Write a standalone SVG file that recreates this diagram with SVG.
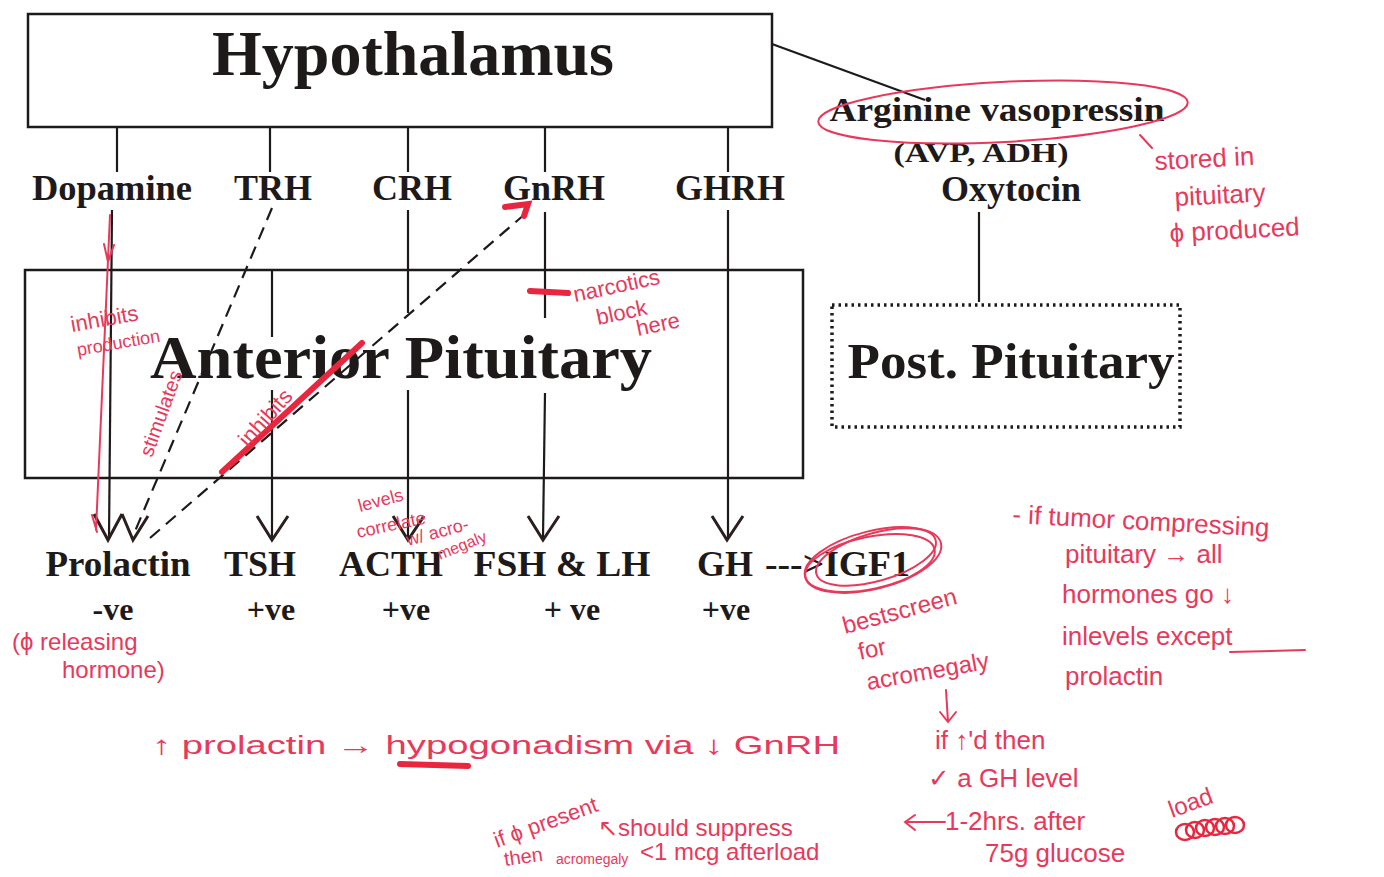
<svg xmlns="http://www.w3.org/2000/svg" width="1384" height="877" viewBox="0 0 1384 877">
<defs>
<style>
.t{font-family:"Liberation Serif","Times New Roman",serif;font-weight:bold;fill:#1e1a1a;}
.box{fill:none;stroke:#1e1a1a;stroke-width:2.5;}
.ln{stroke:#1e1a1a;stroke-width:2.2;fill:none;}
.ds{stroke:#1e1a1a;stroke-width:2.2;fill:none;stroke-dasharray:13 8;}
.ar{stroke:#2a1e1e;stroke-width:3;fill:none;stroke-linejoin:miter;}
.r{font-family:"Liberation Sans",Arial,sans-serif;fill:#e8395a;}
.rl{stroke:#e8395a;stroke-width:2;fill:none;stroke-linecap:round;}
.rt{stroke:#e8273f;stroke-width:6;fill:none;stroke-linecap:round;}
</style>
</defs>
<rect width="1384" height="877" fill="#ffffff"/>

<g id="hypothalamus">
<rect class="box" x="28" y="14" width="744" height="113"/>
<text class="t" x="413" y="75" font-size="64" text-anchor="middle" textLength="402" lengthAdjust="spacingAndGlyphs">Hypothalamus</text>
</g>

<g id="anterior-pituitary">
<rect class="box" x="25" y="270" width="778" height="208"/>
<text class="t" x="401" y="378" font-size="62" text-anchor="middle" textLength="502" lengthAdjust="spacingAndGlyphs">Anterior Pituitary</text>
</g>

<g id="posterior-pituitary">
<rect x="832" y="305" width="348" height="122" fill="none" stroke="#1e1a1a" stroke-width="3.5" stroke-dasharray="2.5 4"/>
<text class="t" x="1011" y="378" font-size="50" text-anchor="middle" textLength="327" lengthAdjust="spacingAndGlyphs">Post. Pituitary</text>
</g>

<g id="releasing-hormones">
<text class="t" x="112" y="200" font-size="36" text-anchor="middle" textLength="160" lengthAdjust="spacingAndGlyphs">Dopamine</text>
<text class="t" x="273" y="200" font-size="36" text-anchor="middle">TRH</text>
<text class="t" x="412" y="200" font-size="36" text-anchor="middle">CRH</text>
<text class="t" x="554" y="200" font-size="36" text-anchor="middle">GnRH</text>
<text class="t" x="730" y="200" font-size="36" text-anchor="middle">GHRH</text>
</g>

<g id="posterior-hormones">
<text class="t" x="997" y="121" font-size="33" text-anchor="middle" textLength="335" lengthAdjust="spacingAndGlyphs">Arginine vasopressin</text>
<text class="t" x="981" y="162" font-size="27" text-anchor="middle" textLength="175" lengthAdjust="spacingAndGlyphs">(AVP, ADH)</text>
<text class="t" x="1011" y="201" font-size="36" text-anchor="middle">Oxytocin</text>
</g>

<g id="pituitary-hormones">
<text class="t" x="118" y="576" font-size="36" text-anchor="middle" textLength="145" lengthAdjust="spacingAndGlyphs">Prolactin</text>
<text class="t" x="260" y="576" font-size="36" text-anchor="middle">TSH</text>
<text class="t" x="391" y="576" font-size="36" text-anchor="middle">ACTH</text>
<text class="t" x="562" y="576" font-size="36" text-anchor="middle" textLength="177" lengthAdjust="spacingAndGlyphs">FSH &amp; LH</text>
<text class="t" x="697" y="576" font-size="36">GH</text>
<text class="t" x="765" y="576" font-size="36" textLength="145" lengthAdjust="spacingAndGlyphs">---&gt;IGF1</text>
<text class="t" x="113" y="620" font-size="32" text-anchor="middle">-ve</text>
<text class="t" x="271" y="620" font-size="32" text-anchor="middle">+ve</text>
<text class="t" x="406" y="620" font-size="32" text-anchor="middle">+ve</text>
<text class="t" x="572" y="620" font-size="32" text-anchor="middle">+ ve</text>
<text class="t" x="726" y="620" font-size="32" text-anchor="middle">+ve</text>
</g>

<g id="connectors">
<line class="ln" x1="772" y1="44" x2="925" y2="100"/>
<line class="ln" x1="117" y1="127" x2="117" y2="172"/>
<line class="ln" x1="270" y1="127" x2="270" y2="172"/>
<line class="ln" x1="408" y1="127" x2="408" y2="172"/>
<line class="ln" x1="545" y1="127" x2="545" y2="172"/>
<line class="ln" x1="728" y1="127" x2="728" y2="172"/>
<line class="ln" x1="979" y1="212" x2="979" y2="302"/>
<line class="ln" x1="112" y1="210" x2="109" y2="538"/>
<line class="ln" x1="272" y1="270" x2="272" y2="337"/>
<line class="ln" x1="272" y1="390" x2="272" y2="538"/>
<line class="ln" x1="408" y1="210" x2="408" y2="313"/>
<line class="ln" x1="408" y1="390" x2="408" y2="538"/>
<line class="ln" x1="545" y1="212" x2="545" y2="318"/>
<line class="ln" x1="545" y1="393" x2="543" y2="538"/>
<line class="ln" x1="728" y1="210" x2="728" y2="538"/>
<line class="ds" x1="272" y1="208" x2="133" y2="536"/>
<line class="ds" x1="150" y1="538" x2="525" y2="214"/>
<path class="ar" d="M94 514 L108 540 L122 514"/>
<path class="ar" d="M122 514 L133 540 L148 516"/>
<path class="ar" d="M257 516 L272 540 L288 516"/>
<path class="ar" d="M393 516 L408 540 L424 516"/>
<path class="ar" d="M528 516 L543 540 L559 516"/>
<path class="ar" d="M712 516 L727 540 L743 516"/>
</g>

<g id="annotations">
<ellipse class="rl" cx="1003" cy="112" rx="185" ry="30" transform="rotate(-3 1003 112)"/>
<line class="rl" x1="1140" y1="135" x2="1152" y2="148"/>
<text class="r" x="1155" y="170" font-size="26" transform="rotate(-3 1155 170)">stored in</text>
<text class="r" x="1175" y="206" font-size="26" transform="rotate(-3 1175 206)">pituitary</text>
<text class="r" x="1170" y="242" font-size="26" transform="rotate(-3 1170 242)">ϕ produced</text>

<path class="rl" d="M110 215 L96 530 M92 515 L97 532 M104 244 L108 262 L114 245"/>
<text class="r" x="72" y="332" font-size="22" transform="rotate(-10 72 332)">inhibits</text>
<text class="r" x="78" y="356" font-size="18" transform="rotate(-10 78 356)">production</text>
<text class="r" x="152" y="458" font-size="20" transform="rotate(-70 152 458)">stimulates</text>
<line class="rt" x1="222" y1="472" x2="362" y2="343"/>
<text class="r" x="248" y="448" font-size="22" transform="rotate(-48 248 448)">inhibits</text>
<path class="rt" d="M505 207 L528 204 L524 216" stroke-width="5"/>

<line class="rt" x1="530" y1="291" x2="568" y2="293"/>
<text class="r" x="575" y="302" font-size="22" transform="rotate(-12 575 302)">narcotics</text>
<text class="r" x="598" y="325" font-size="22" transform="rotate(-12 598 325)">block</text>
<text class="r" x="638" y="336" font-size="22" transform="rotate(-12 638 336)">here</text>

<text class="r" x="360" y="512" font-size="18" transform="rotate(-15 360 512)">levels</text>
<text class="r" x="358" y="538" font-size="18" transform="rotate(-12 358 538)">correlate</text>
<text class="r" x="408" y="546" font-size="18" transform="rotate(-15 408 546)">w/ acro-</text>
<text class="r" x="440" y="560" font-size="16" transform="rotate(-22 440 560)">megaly</text>

<text class="r" x="12" y="650" font-size="24">(ϕ releasing</text>
<text class="r" x="62" y="678" font-size="24">hormone)</text>

<ellipse class="rl" cx="873" cy="560" rx="70" ry="29" transform="rotate(-14 873 560)"/>
<ellipse class="rl" cx="876" cy="557" rx="62" ry="24" transform="rotate(-16 876 557)"/>
<ellipse class="rl" cx="870" cy="563" rx="66" ry="26" transform="rotate(-12 870 563)"/>
<text class="r" x="845" y="634" font-size="24" transform="rotate(-15 845 634)">bestscreen</text>
<text class="r" x="860" y="660" font-size="24" transform="rotate(-12 860 660)">for</text>
<text class="r" x="868" y="690" font-size="24" transform="rotate(-10 868 690)">acromegaly</text>
<path class="rl" d="M946 690 L948 722 M940 712 L948 722 L956 712"/>

<text class="r" x="1012" y="523" font-size="26" transform="rotate(3 1012 523)">- if tumor compressing</text>
<text class="r" x="1065" y="563" font-size="26">pituitary → all</text>
<text class="r" x="1062" y="603" font-size="26">hormones  go ↓</text>
<text class="r" x="1062" y="645" font-size="26">inlevels  except</text>
<line class="rl" x1="1230" y1="652" x2="1305" y2="650" stroke-width="3"/>
<text class="r" x="1065" y="685" font-size="26">prolactin</text>

<text class="r" x="152" y="754" font-size="26" textLength="688" lengthAdjust="spacingAndGlyphs">↑ prolactin  →  hypogonadism  via ↓ GnRH</text>
<line class="rt" x1="400" y1="764" x2="468" y2="766"/>

<text class="r" x="935" y="749" font-size="26">if ↑'d then</text>
<text class="r" x="928" y="787" font-size="26">✓ a GH level</text>
<text class="r" x="945" y="830" font-size="26">1-2hrs. after</text>
<text class="r" x="1172" y="818" font-size="24" transform="rotate(-20 1172 818)">load</text>
<text class="r" x="985" y="862" font-size="26">75g glucose</text>
<g fill="none" stroke="#e8273f" stroke-width="2.5">
<ellipse cx="1185" cy="832" rx="9" ry="8"/><ellipse cx="1195" cy="830" rx="9" ry="8"/><ellipse cx="1205" cy="828" rx="9" ry="8"/><ellipse cx="1215" cy="827" rx="9" ry="8"/><ellipse cx="1225" cy="826" rx="9" ry="8"/><ellipse cx="1235" cy="825" rx="9" ry="8"/>
</g>
<path class="rl" d="M945 822 L905 822 M915 815 L905 822 L915 830"/>

<text class="r" x="497" y="848" font-size="22" transform="rotate(-20 497 848)">if ϕ present</text>
<text class="r" x="505" y="866" font-size="20" transform="rotate(-8 505 866)">then</text>
<text class="r" x="598" y="836" font-size="24">↖should suppress</text>
<text class="r" x="556" y="864" font-size="14">acromegaly</text>
<text class="r" x="640" y="860" font-size="24">&lt;1 mcg afterload</text>
</g>
</svg>
